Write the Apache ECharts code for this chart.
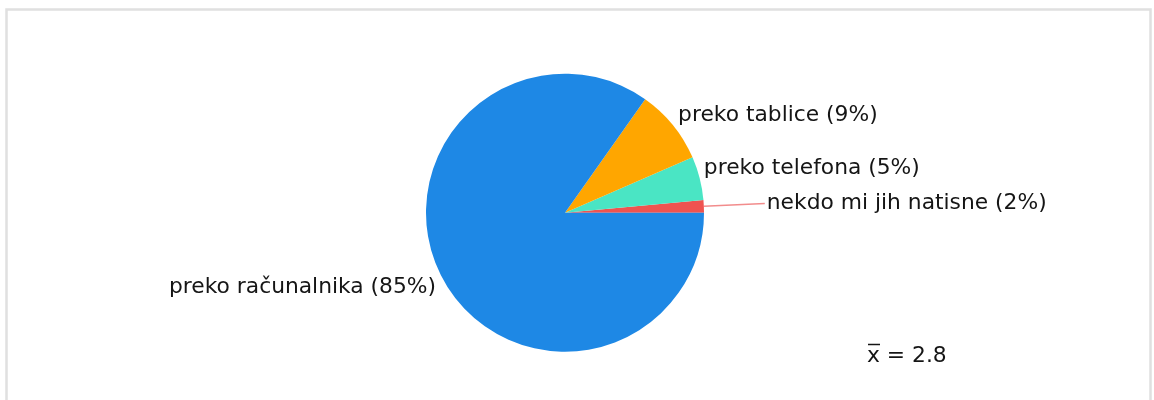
<!DOCTYPE html>
<html>
<head>
<meta charset="utf-8">
<script src="https://cdn.jsdelivr.net/npm/echarts@6/dist/echarts.min.js"></script>
<style>
html,body{margin:0;padding:0;background:#fff;}
#chart{width:1154px;height:400px;}
</style>
</head>
<body>
<div id="chart"></div>
<script>
// Data (slices in drawing order, counter-clockwise from 3 o'clock)
const categories = ['nekdo mi jih natisne', 'preko telefona', 'preko tablice', 'preko računalnika'];
const values = [2, 7, 12, 117];
const percentLabels = [2, 5, 9, 85];
const meanSymbol = 'x';
const meanValue = '2.8';

// Styles
const colors = ['#ef5350', '#4ae5c4', '#ffa600', '#1e88e5'];
const labelTuning = [
  { length: 61, distance: 2, showLine: true },
  { length: 41.5, distance: -36, showLine: false },
  { length: 15.8, distance: -7, showLine: false },
  { length: 22.6, distance: -14.5, showLine: false }
];
const textColor = '#151515';
const fontSize = 21.8;

const chart = echarts.init(document.getElementById('chart'), null, { renderer: 'canvas' });

const data = categories.map((name, i) => ({
  name: name,
  value: values[i],
  itemStyle: { color: colors[i] },
  label: {
    formatter: name + ' (' + percentLabels[i] + '%)',
    distanceToLabelLine: labelTuning[i].distance
  },
  labelLine: {
    show: labelTuning[i].showLine,
    length: labelTuning[i].length,
    length2: 0,
    lineStyle: { color: '#f28c8c', width: 1.5 }
  }
}));

chart.setOption({
  animation: false,
  backgroundColor: '#ffffff',
  graphic: [
    {
      type: 'rect',
      shape: { x: 6.5, y: 9.5, width: 1144, height: 420 },
      style: { fill: 'none', stroke: '#e0e0e0', lineWidth: 2.5 },
      silent: true
    },
    {
      type: 'text',
      left: 867,
      top: 345,
      style: {
        text: meanSymbol + ' = ' + meanValue,
        font: fontSize + 'px "DejaVu Sans"',
        fill: textColor
      },
      silent: true
    },
    {
      type: 'line',
      shape: { x1: 868, y1: 344.5, x2: 880, y2: 344.5 },
      style: { stroke: textColor, lineWidth: 1.5 },
      silent: true
    }
  ],
  series: [{
    type: 'pie',
    center: [565, 212.7],
    radius: [0, 139],
    startAngle: 0,
    clockwise: false,
    avoidLabelOverlap: false,
    silent: true,
    itemStyle: { borderWidth: 0 },
    label: {
      show: true,
      position: 'outside',
      fontFamily: 'DejaVu Sans',
      fontSize: fontSize,
      color: textColor
    },
    emphasis: { disabled: true },
    data: data
  }]
});
</script>
</body>
</html>
